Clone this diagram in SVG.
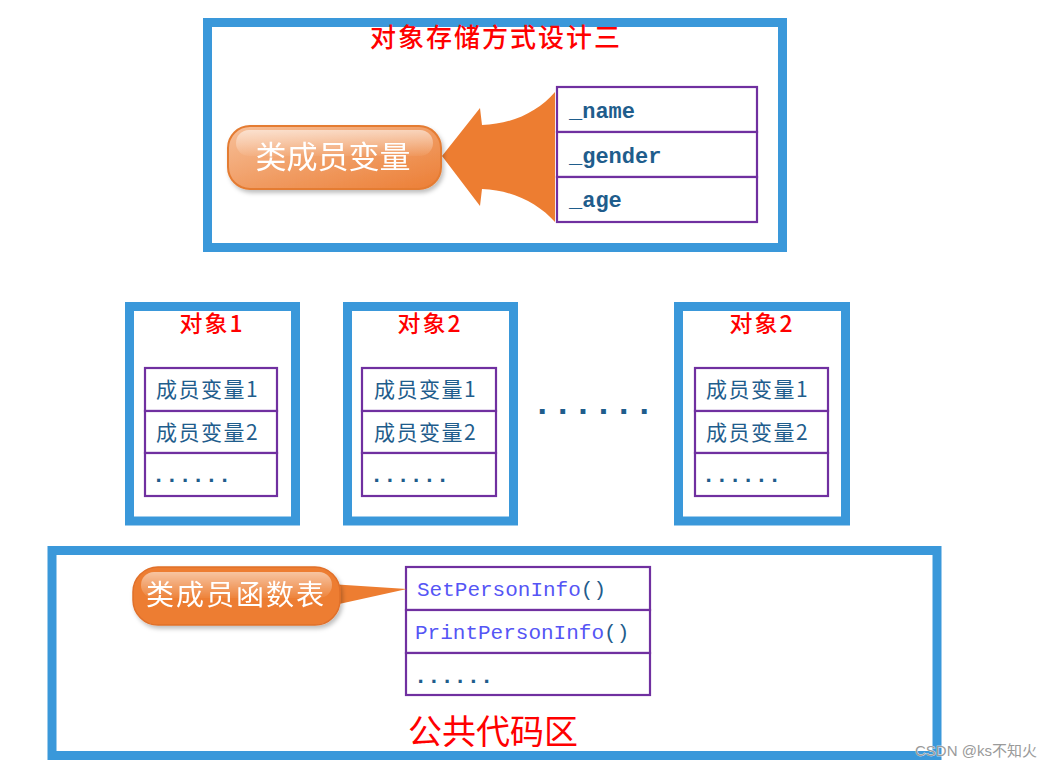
<svg xmlns="http://www.w3.org/2000/svg" width="1062" height="769" viewBox="0 0 1062 769">
<defs>
<linearGradient id="pillA" x1="0" y1="0" x2="1" y2="1">
<stop offset="0" stop-color="#F7C09A"/>
<stop offset="0.55" stop-color="#F09A60"/>
<stop offset="1" stop-color="#EC7E35"/>
</linearGradient>
<linearGradient id="gloss" x1="0" y1="0" x2="0" y2="1">
<stop offset="0" stop-color="#FFFFFF" stop-opacity="0.55"/>
<stop offset="1" stop-color="#FFFFFF" stop-opacity="0.05"/>
</linearGradient>
<filter id="shadow" x="-10%" y="-10%" width="130%" height="140%">
<feDropShadow dx="2" dy="3" stdDeviation="2" flood-color="#000" flood-opacity="0.25"/>
</filter>
</defs>
<style>
.frame{fill:none;stroke:#3A98DA;stroke-width:9}
.cell{fill:#FFFFFF;stroke:#7030A0;stroke-width:2.2}
.title{font-family:"Noto Sans CJK SC","Liberation Serif",serif;fill:#FF0000;text-anchor:middle;font-weight:500}
.title.plain{font-weight:normal}
.mem{font-family:"Liberation Mono","Noto Sans CJK SC",monospace;font-size:22px;font-weight:bold;fill:#1F5D8C}
.cjk{font-family:"Noto Sans CJK SC",sans-serif;font-size:21px;fill:#1F5D8C;letter-spacing:1.5px}
.dots{font-family:"Liberation Mono",monospace;font-size:22px;font-weight:bold;fill:#1F5D8C}
.fn{font-family:"Liberation Mono",monospace;font-size:21px;fill:#5555F5}
.par{fill:#1F5D8C}
.pilltxt{font-family:"Noto Sans CJK SC",sans-serif;fill:#FFFFFF;text-anchor:middle}
</style>
<rect width="1062" height="769" fill="#FFFFFF"/>

<g id="storage-design">
<rect class="frame" x="207.5" y="22.5" width="575" height="225"/>
<text class="title" x="496" y="47" font-size="26" letter-spacing="2">对象存储方式设计三</text>
</g>

<g id="member-table">
<rect class="cell" x="557" y="87" width="200" height="45"/>
<rect class="cell" x="557" y="132" width="200" height="45"/>
<rect class="cell" x="557" y="177" width="200" height="45"/>
<text class="mem" x="569" y="118">_name</text>
<text class="mem" x="569" y="163">_gender</text>
<text class="mem" x="569" y="207">_age</text>
</g>

<g id="object1">
<rect class="frame" x="129.5" y="306.5" width="166" height="214.5"/>
<text class="title" x="212" y="332" font-size="23" letter-spacing="2">对象1</text>
<rect class="cell" x="145" y="368" width="132" height="43"/>
<rect class="cell" x="145" y="411" width="132" height="42"/>
<rect class="cell" x="145" y="453" width="132" height="43"/>
<text class="cjk" x="156" y="397">成员变量1</text>
<text class="cjk" x="156" y="440">成员变量2</text>
<text class="dots" x="152" y="482">......</text>
</g>

<g id="object2">
<rect class="frame" x="347.5" y="306.5" width="166" height="214.5"/>
<text class="title" x="430" y="332" font-size="23" letter-spacing="2">对象2</text>
<rect class="cell" x="362" y="368" width="134" height="43"/>
<rect class="cell" x="362" y="411" width="134" height="42"/>
<rect class="cell" x="362" y="453" width="134" height="43"/>
<text class="cjk" x="374" y="397">成员变量1</text>
<text class="cjk" x="374" y="440">成员变量2</text>
<text class="dots" x="370" y="482">......</text>
</g>

<g id="ellipsis">
<text x="532" y="414" font-family="Liberation Mono, monospace" font-size="34" font-weight="bold" fill="#1F5D8C">......</text>
</g>

<g id="object3">
<rect class="frame" x="678.5" y="306.5" width="167" height="214.5"/>
<text class="title" x="762" y="332" font-size="23" letter-spacing="2">对象2</text>
<rect class="cell" x="695" y="368" width="133" height="43"/>
<rect class="cell" x="695" y="411" width="133" height="42"/>
<rect class="cell" x="695" y="453" width="133" height="43"/>
<text class="cjk" x="706" y="397">成员变量1</text>
<text class="cjk" x="706" y="440">成员变量2</text>
<text class="dots" x="702" y="482">......</text>
</g>

<g id="public-code">
<rect class="frame" x="52" y="550.5" width="885" height="205"/>
<text class="title plain" x="493" y="744" font-size="34">公共代码区</text>
</g>

<g id="function-table">
<rect class="cell" x="406" y="567" width="244" height="43"/>
<rect class="cell" x="406" y="610" width="244" height="43"/>
<rect class="cell" x="406" y="653" width="244" height="42"/>
<text class="fn" x="417" y="596">SetPersonInfo<tspan class="par">()</tspan></text>
<text class="fn" x="415" y="639">PrintPersonInfo<tspan class="par">()</tspan></text>
<text class="dots" x="414" y="683">......</text>
</g>

<g id="connectors">
<path d="M442,156 L480,108 L482,125 C512,124 538,112 555,92 L555,222 C538,203 512,190 482,189 L480,206 Z" fill="#ED7D31"/>
<path d="M330,584 L407,589 L330,606 Z" fill="#ED7D31"/>
</g>

<g id="class-member-var" filter="url(#shadow)">
<rect x="228" y="126" width="213" height="63" rx="22" fill="url(#pillA)" stroke="#E47B33" stroke-width="2"/>
<rect x="236" y="130" width="197" height="26" rx="13" fill="url(#gloss)"/>
<text class="pilltxt" x="333" y="168" font-size="31">类成员变量</text>
</g>

<g id="class-member-fn" filter="url(#shadow)">
<rect x="133" y="567" width="207" height="58" rx="25" fill="#ED7D31" stroke="#E0702A" stroke-width="1.5"/>
<rect x="141" y="572" width="191" height="26" rx="13" fill="url(#gloss)"/>
<text class="pilltxt" x="236" y="605" font-size="28" letter-spacing="2">类成员函数表</text>
</g>

<g id="watermark">
<text x="915" y="756" font-family="Liberation Sans, Noto Sans CJK SC, sans-serif" font-size="15" fill="#9A9A9A" stroke="#FFFFFF" stroke-width="0.6" paint-order="stroke">CSDN @ks不知火</text>
</g>
</svg>
